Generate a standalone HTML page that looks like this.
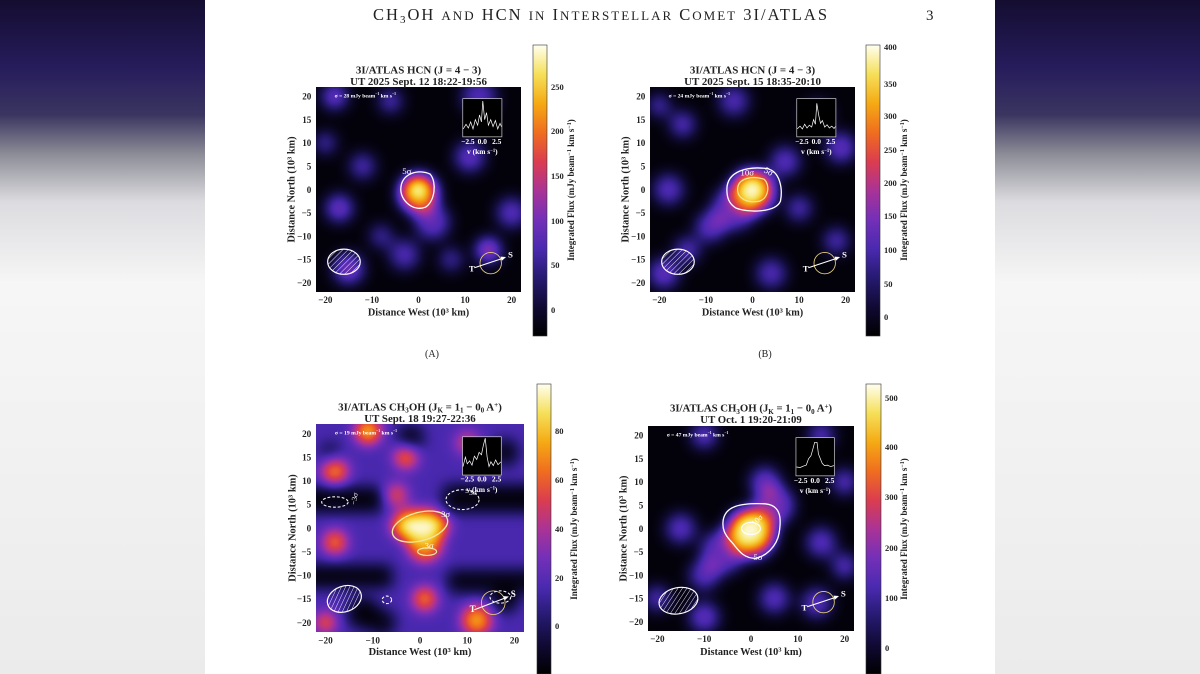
<!DOCTYPE html>
<html><head><meta charset="utf-8"><style>
html,body{margin:0;padding:0;width:1200px;height:674px;overflow:hidden;background:#fff}
svg{display:block}
text{font-family:"Liberation Serif",serif}
</style></head><body>
<svg width="1200" height="674" viewBox="0 0 1200 674" xmlns="http://www.w3.org/2000/svg">
<defs>
<linearGradient id="side" x1="0" y1="0" x2="0" y2="1">
<stop offset="0" stop-color="#140d30"/><stop offset="0.1" stop-color="#261c5c"/><stop offset="0.17" stop-color="#3a3560"/>
<stop offset="0.23" stop-color="#8e8e98"/><stop offset="0.3" stop-color="#dcdce0"/><stop offset="0.42" stop-color="#f6f6f6"/>
<stop offset="1" stop-color="#ebebeb"/></linearGradient>
<linearGradient id="cbar" x1="0" y1="1" x2="0" y2="0">
<stop offset="0" stop-color="#000"/><stop offset="0.1" stop-color="#100a33"/><stop offset="0.2" stop-color="#261a70"/>
<stop offset="0.3" stop-color="#4a2ab0"/><stop offset="0.4" stop-color="#7330b8"/><stop offset="0.5" stop-color="#aa3396"/>
<stop offset="0.6" stop-color="#db3d4f"/><stop offset="0.7" stop-color="#f06e1f"/><stop offset="0.8" stop-color="#f5aa14"/>
<stop offset="0.9" stop-color="#f5e05a"/><stop offset="1" stop-color="#fffff0"/></linearGradient>
<filter id="cm" filterUnits="userSpaceOnUse" x="-30" y="-30" width="60" height="60" color-interpolation-filters="sRGB">
<feGaussianBlur stdDeviation="1.6"/>
<feComponentTransfer>
<feFuncR type="table" tableValues="0 .06 .15 .29 .45 .67 .86 .94 .96 .97 1"/>
<feFuncG type="table" tableValues="0 .04 .1 .16 .18 .2 .24 .43 .67 .88 1"/>
<feFuncB type="table" tableValues="0 .2 .44 .69 .72 .59 .31 .12 .08 .35 .94"/>
</feComponentTransfer></filter>
<clipPath id="pc"><rect x="-22" y="-22" width="44" height="44"/></clipPath>
<pattern id="hatch" patternUnits="userSpaceOnUse" width="0.8" height="0.8" patternTransform="rotate(45)">
<line x1="0" y1="0" x2="0" y2="0.8" stroke="#fff" stroke-width="0.18"/></pattern>
</defs>

<rect x="0" y="0" width="205" height="674" fill="url(#side)"/>
<rect x="995" y="0" width="205" height="674" fill="url(#side)"/>

<text x="373" y="20" font-size="16.5" fill="#222" textLength="454" lengthAdjust="spacing">CH<tspan font-size="11" dy="3">3</tspan><tspan dy="-3">OH </tspan><tspan font-size="13">AND</tspan> HCN <tspan font-size="13">IN</tspan> I<tspan font-size="13">NTERSTELLAR</tspan> C<tspan font-size="13">OMET</tspan> 3I/ATLAS</text>
<text x="926" y="20" font-size="15" fill="#222">3</text>
<text x="432" y="357" font-size="10" text-anchor="middle" fill="#222">(A)</text>
<text x="765" y="357" font-size="10" text-anchor="middle" fill="#222">(B)</text>

<!-- ============ PANEL A ============ -->
<svg x="316" y="87" width="205" height="205" viewBox="-22 -22 44 44" preserveAspectRatio="none" overflow="visible">
<g clip-path="url(#pc)"><g filter="url(#cm)">
<rect x="-30" y="-30" width="60" height="60" fill="#050505"/>
<g fill="#fff">
<circle cx="-18" cy="-20" r="2.8" opacity=".38"/><circle cx="-17" cy="4" r="3" opacity=".38"/>
<circle cx="-15" cy="17" r="3.3" opacity=".4"/><circle cx="15" cy="13" r="2.7" opacity=".5"/>
<circle cx="11" cy="-7" r="3.3" opacity=".34"/><circle cx="3" cy="7" r="3.8" opacity=".34"/>
<circle cx="-6" cy="-19" r="2.5" opacity=".32"/><circle cx="13" cy="-20" r="3.8" opacity=".3"/>
<circle cx="20" cy="5" r="3.3" opacity=".32"/><circle cx="-12" cy="-5" r="2.8" opacity=".3"/>
<circle cx="-3" cy="14" r="3.3" opacity=".3"/><circle cx="-20" cy="-10" r="2.3" opacity=".3"/>
<circle cx="-8" cy="10" r="2.5" opacity=".28"/><circle cx="7" cy="15" r="2.5" opacity=".28"/>
<circle cx="0" cy="1" r="4.4" opacity=".58"/><circle cx="0" cy="0" r="3" opacity=".88"/><circle cx="-0.5" cy="-0.2" r="2.3" fill="#fff"/>
</g></g></g>
<path d="M-3.8,0 C-3.8,-3.5 0,-4.5 2.5,-3.3 C4,-1.5 3.5,2.5 1.5,3.8 C-1,4.8 -3.8,2.5 -3.8,0Z" fill="none" stroke="#fff" stroke-width="0.28"/>
<text x="-3.5" y="-3.3" font-size="1.9" fill="#fff">5σ</text>
<ellipse cx="-16" cy="15.5" rx="3.5" ry="2.7" fill="url(#hatch)" stroke="#fff" stroke-width="0.25"/>
<circle cx="15.5" cy="15.8" r="2.3" fill="none" stroke="#e8d27a" stroke-width="0.18"/>
<line x1="12" y1="16.8" x2="18.3" y2="14.7" stroke="#fff" stroke-width="0.22"/><path d="M18.8,14.5 L17.6,14.4 L17.9,15.3Z" fill="#fff"/>
<text x="10.8" y="17.6" font-size="1.9" font-weight="bold" fill="#fff">T</text><text x="19.2" y="14.6" font-size="1.9" font-weight="bold" fill="#fff">S</text>
<text x="-18" y="-19.8" font-size="1.2" font-weight="bold" fill="#fff">σ = 28 mJy beam<tspan dy="-0.5" font-size="0.8">−1</tspan><tspan dy="0.5"> km s</tspan><tspan dy="-0.5" font-size="0.8">−1</tspan></text>
<rect x="9.5" y="-19.5" width="8.4" height="8.2" fill="#000" stroke="#ccc" stroke-width="0.15"/>
<polyline points="9.6,-13 10.2,-14 10.7,-13.2 11.2,-14.5 11.7,-13 12.2,-15 12.7,-13.8 13.1,-16 13.5,-14.5 13.8,-19 14.2,-15 14.6,-16.5 15,-13.8 15.5,-15 16,-13.5 16.5,-14.8 17,-13 17.5,-14.2 17.8,-13.5" fill="none" stroke="#fff" stroke-width="0.15"/>
<g font-size="1.6" fill="#fff" font-weight="bold" text-anchor="middle"><text x="10.6" y="-9.8">−2.5</text><text x="13.7" y="-9.8">0.0</text><text x="16.8" y="-9.8">2.5</text><text x="13.7" y="-7.6">v (km s<tspan font-size="1" dy="-0.5">−1</tspan><tspan dy="0.5">)</tspan></text></g>
<g font-size="1.95" font-weight="bold" fill="#222" text-anchor="middle"><text x="-20" y="24.4">−20</text><text x="-10" y="24.4">−10</text><text x="0" y="24.4">0</text><text x="10" y="24.4">10</text><text x="20" y="24.4">20</text></g>
<g font-size="1.95" font-weight="bold" fill="#222" text-anchor="end"><text x="-23" y="-19.3">20</text><text x="-23" y="-14.3">15</text><text x="-23" y="-9.3">10</text><text x="-23" y="-4.3">5</text><text x="-23" y="0.7">0</text><text x="-23" y="5.7">−5</text><text x="-23" y="10.7">−10</text><text x="-23" y="15.7">−15</text><text x="-23" y="20.7">−20</text></g>
<text x="0" y="27.1" font-size="2.2" font-weight="bold" fill="#222" text-anchor="middle">Distance West (10<tspan font-size="1.4" dy="-0.7">3</tspan><tspan dy="0.7"> km)</tspan></text>
<text transform="translate(-26.6,0) rotate(-90)" font-size="2.2" font-weight="bold" fill="#222" text-anchor="middle">Distance North (10<tspan font-size="1.4" dy="-0.7">3</tspan><tspan dy="0.7"> km)</tspan></text>
<text x="0" y="-24.9" font-size="2.35" font-weight="bold" fill="#222" text-anchor="middle">3I/ATLAS HCN (J = 4 − 3)</text>
<text x="0" y="-22.4" font-size="2.35" font-weight="bold" fill="#222" text-anchor="middle">UT 2025 Sept. 12 18:22-19:56</text>
</svg>
<rect x="533" y="45" width="14" height="291" fill="url(#cbar)" stroke="#333" stroke-width="0.6"/>
<g font-size="8.5" font-weight="bold" fill="#222"><text x="551" y="90">250</text><text x="551" y="134">200</text><text x="551" y="179">150</text><text x="551" y="224">100</text><text x="551" y="268">50</text><text x="551" y="313">0</text></g>
<text transform="translate(574,190) rotate(-90)" font-size="9" font-weight="bold" fill="#222" text-anchor="middle">Integrated Flux (mJy beam<tspan font-size="6" dy="-3">−1</tspan><tspan dy="3"> km s</tspan><tspan font-size="6" dy="-3">−1</tspan><tspan dy="3">)</tspan></text>

<!-- ============ PANEL B ============ -->
<svg x="650" y="87" width="205" height="205" viewBox="-22 -22 44 44" preserveAspectRatio="none" overflow="visible">
<g clip-path="url(#pc)"><g filter="url(#cm)">
<rect x="-30" y="-30" width="60" height="60" fill="#050505"/>
<g fill="#fff">
<circle cx="-4" cy="4" r="4.8" opacity=".35"/><circle cx="-9" cy="8" r="3.3" opacity=".34"/>
<circle cx="7" cy="-6" r="3.3" opacity=".32"/><circle cx="-18" cy="0" r="3.3" opacity=".32"/>
<circle cx="19" cy="-9" r="3.3" opacity=".34"/><circle cx="-15" cy="-14" r="2.8" opacity=".32"/>
<circle cx="14" cy="-16" r="2.8" opacity=".34"/><circle cx="-4" cy="-19" r="3.3" opacity=".3"/>
<circle cx="4" cy="18" r="3.3" opacity=".3"/><circle cx="-19" cy="18" r="3.3" opacity=".35"/>
<circle cx="18" cy="11" r="2.8" opacity=".3"/><circle cx="-14" cy="13" r="2.8" opacity=".32"/>
<circle cx="-20" cy="-18" r="2.3" opacity=".32"/><circle cx="10" cy="4" r="2.8" opacity=".3"/>
<circle cx="0" cy="0.5" r="5" opacity=".55"/><circle cx="0" cy="0" r="3.5" opacity=".9"/><circle cx="0" cy="0" r="2.5" fill="#fff"/>
</g></g></g>
<path d="M-5.5,0 C-5.5,-4 -1,-5 3,-4.5 C6,-4 6.5,0 6,2.5 C5,5 -1,5 -3.5,4 C-5.2,3 -5.5,1.5 -5.5,0Z" fill="none" stroke="#fff" stroke-width="0.28"/>
<path d="M-3.2,0 C-3.2,-2.5 0,-3 2.5,-2.2 C3.8,-1 3.5,1.8 1.5,2.5 C-1,3 -3.2,2 -3.2,0Z" fill="none" stroke="#f5e78a" stroke-width="0.26"/>
<text x="-2.6" y="-3.0" font-size="1.9" fill="#fff">10σ</text><text x="2.5" y="-3.5" font-size="1.9" fill="#fff" transform="rotate(30 3 -4)">5σ</text>
<ellipse cx="-16" cy="15.5" rx="3.5" ry="2.7" fill="url(#hatch)" stroke="#fff" stroke-width="0.25"/>
<circle cx="15.5" cy="15.8" r="2.3" fill="none" stroke="#e8d27a" stroke-width="0.18"/>
<line x1="12" y1="16.8" x2="18.3" y2="14.7" stroke="#fff" stroke-width="0.22"/><path d="M18.8,14.5 L17.6,14.4 L17.9,15.3Z" fill="#fff"/>
<text x="10.8" y="17.6" font-size="1.9" font-weight="bold" fill="#fff">T</text><text x="19.2" y="14.6" font-size="1.9" font-weight="bold" fill="#fff">S</text>
<text x="-18" y="-19.8" font-size="1.2" font-weight="bold" fill="#fff">σ = 24 mJy beam<tspan dy="-0.5" font-size="0.8">−1</tspan><tspan dy="0.5"> km s</tspan><tspan dy="-0.5" font-size="0.8">−1</tspan></text>
<rect x="9.5" y="-19.5" width="8.4" height="8.2" fill="#000" stroke="#ccc" stroke-width="0.15"/>
<polyline points="9.6,-13 10.2,-13.6 10.7,-13 11.2,-14 11.7,-13.2 12.2,-13.8 12.7,-13.4 13.1,-15 13.5,-14 13.8,-18.5 14.2,-16 14.6,-14.2 15,-14.8 15.5,-13.4 16,-13.9 16.5,-13.2 17,-13.6 17.5,-13.1 17.8,-13.5" fill="none" stroke="#fff" stroke-width="0.15"/>
<g font-size="1.6" fill="#fff" font-weight="bold" text-anchor="middle"><text x="10.6" y="-9.8">−2.5</text><text x="13.7" y="-9.8">0.0</text><text x="16.8" y="-9.8">2.5</text><text x="13.7" y="-7.6">v (km s<tspan font-size="1" dy="-0.5">−1</tspan><tspan dy="0.5">)</tspan></text></g>
<g font-size="1.95" font-weight="bold" fill="#222" text-anchor="middle"><text x="-20" y="24.4">−20</text><text x="-10" y="24.4">−10</text><text x="0" y="24.4">0</text><text x="10" y="24.4">10</text><text x="20" y="24.4">20</text></g>
<g font-size="1.95" font-weight="bold" fill="#222" text-anchor="end"><text x="-23" y="-19.3">20</text><text x="-23" y="-14.3">15</text><text x="-23" y="-9.3">10</text><text x="-23" y="-4.3">5</text><text x="-23" y="0.7">0</text><text x="-23" y="5.7">−5</text><text x="-23" y="10.7">−10</text><text x="-23" y="15.7">−15</text><text x="-23" y="20.7">−20</text></g>
<text x="0" y="27.1" font-size="2.2" font-weight="bold" fill="#222" text-anchor="middle">Distance West (10<tspan font-size="1.4" dy="-0.7">3</tspan><tspan dy="0.7"> km)</tspan></text>
<text transform="translate(-26.6,0) rotate(-90)" font-size="2.2" font-weight="bold" fill="#222" text-anchor="middle">Distance North (10<tspan font-size="1.4" dy="-0.7">3</tspan><tspan dy="0.7"> km)</tspan></text>
<text x="0" y="-24.9" font-size="2.35" font-weight="bold" fill="#222" text-anchor="middle">3I/ATLAS HCN (J = 4 − 3)</text>
<text x="0" y="-22.4" font-size="2.35" font-weight="bold" fill="#222" text-anchor="middle">UT 2025 Sept. 15 18:35-20:10</text>
</svg>
<rect x="866" y="45" width="14" height="291" fill="url(#cbar)" stroke="#333" stroke-width="0.6"/>
<g font-size="8.5" font-weight="bold" fill="#222"><text x="884" y="50">400</text><text x="884" y="87">350</text><text x="884" y="119">300</text><text x="884" y="153">250</text><text x="884" y="186">200</text><text x="884" y="219">150</text><text x="884" y="253">100</text><text x="884" y="287">50</text><text x="884" y="320">0</text></g>
<text transform="translate(907,190) rotate(-90)" font-size="9" font-weight="bold" fill="#222" text-anchor="middle">Integrated Flux (mJy beam<tspan font-size="6" dy="-3">−1</tspan><tspan dy="3"> km s</tspan><tspan font-size="6" dy="-3">−1</tspan><tspan dy="3">)</tspan></text>

<!-- ============ PANEL C ============ -->
<svg x="316" y="424" width="208" height="208" viewBox="-22 -22 44 44" preserveAspectRatio="none" overflow="visible">
<g clip-path="url(#pc)"><g filter="url(#cm)">
<rect x="-30" y="-30" width="60" height="60" fill="#4c4c4c"/>
<g fill="#000">
<rect x="-30" y="-8.5" width="22" height="5" opacity=".95"/><rect x="5" y="-9" width="25" height="5.5" opacity=".95"/>
<rect x="-30" y="8" width="24" height="4.5" opacity=".95"/><rect x="6" y="9" width="24" height="4.5" opacity=".9"/>
<circle cx="-12" cy="18" r="3.3" opacity=".95"/><circle cx="-2" cy="-19" r="2.8" opacity=".85"/>
<circle cx="18" cy="-16" r="2.8" opacity=".85"/><circle cx="-19" cy="-16" r="2.2" opacity=".6"/>
<circle cx="18" cy="15" r="2.8" opacity=".9"/><circle cx="-8" cy="20" r="2.8" opacity=".85"/>
</g>
<g fill="#fff">
<circle cx="-11" cy="-20.5" r="2.7" opacity=".82"/><circle cx="-3" cy="-15" r="2.5" opacity=".64"/>
<circle cx="-18" cy="-12" r="2.8" opacity=".66"/><circle cx="-18" cy="3" r="2.6" opacity=".64"/>
<circle cx="1" cy="15" r="2.6" opacity=".66"/><circle cx="12" cy="19.5" r="3.2" opacity=".72"/>
<circle cx="-20" cy="20" r="2.2" opacity=".62"/><circle cx="-5" cy="-7" r="2.5" opacity=".5"/>
<circle cx="10" cy="-18" r="2.5" opacity=".45"/>
<circle cx="1" cy="3.5" r="3.7" opacity=".68"/>
<ellipse cx="0" cy="-0.5" rx="6.2" ry="3.4" opacity=".74"/><circle cx="-2" cy="-0.5" r="2.6" opacity=".96"/><circle cx="2" cy="-0.8" r="2.6" opacity=".9"/>
</g></g></g>
<ellipse cx="0" cy="-0.3" rx="6" ry="3" transform="rotate(-15 0 -0.3)" fill="none" stroke="#f3e7a0" stroke-width="0.28"/>
<ellipse cx="1.5" cy="5" rx="2" ry="0.8" fill="none" stroke="#f3e7a0" stroke-width="0.25"/>
<text x="4.5" y="-2.3" font-size="1.8" fill="#fff">3σ</text><text x="1" y="4.3" font-size="1.8" fill="#fff">3σ</text>
<g fill="none" stroke="#fff" stroke-width="0.22" stroke-dasharray="0.6 0.4">
<ellipse cx="-18" cy="-5.5" rx="2.8" ry="1.1"/><ellipse cx="9" cy="-6" rx="3.5" ry="2.1"/><ellipse cx="-7" cy="15.2" rx="1" ry="0.8"/><ellipse cx="17" cy="14.6" rx="2.2" ry="1.3"/></g>
<text x="-15" y="-4.5" font-size="1.6" fill="#fff" transform="rotate(-80 -14.5 -5.5)">−3σ</text><text x="9.5" y="-7" font-size="1.6" fill="#fff">−3σ</text>
<ellipse cx="-16" cy="15" rx="3.7" ry="2.7" transform="rotate(-20 -16 15)" fill="url(#hatch)" stroke="#fff" stroke-width="0.25"/>
<circle cx="15.5" cy="15.8" r="2.5" fill="none" stroke="#e8d27a" stroke-width="0.18"/>
<line x1="11.5" y1="17.3" x2="18.3" y2="14.7" stroke="#fff" stroke-width="0.22"/><path d="M18.8,14.5 L17.6,14.4 L17.9,15.3Z" fill="#fff"/>
<text x="10.5" y="17.8" font-size="1.9" font-weight="bold" fill="#fff">T</text><text x="19.2" y="14.6" font-size="1.9" font-weight="bold" fill="#fff">S</text>
<text x="-18" y="-19.8" font-size="1.2" font-weight="bold" fill="#fff">σ = 19 mJy beam<tspan dy="-0.5" font-size="0.8">−1</tspan><tspan dy="0.5"> km s</tspan><tspan dy="-0.5" font-size="0.8">−1</tspan></text>
<rect x="9" y="-19.3" width="8.2" height="8.1" fill="#000" stroke="#ccc" stroke-width="0.15"/>
<polyline points="9.1,-13 9.6,-15 10,-13.6 10.5,-14.2 11,-13.3 11.5,-15.2 12,-14.5 12.5,-16 13,-15.5 13.4,-17.5 13.8,-19 14.2,-15 14.6,-13 15,-14 15.5,-13.2 16,-14.4 16.5,-13.4 17.1,-14" fill="none" stroke="#fff" stroke-width="0.15"/>
<g font-size="1.6" fill="#fff" font-weight="bold" text-anchor="middle"><text x="10" y="-9.8">−2.5</text><text x="13.1" y="-9.8">0.0</text><text x="16.2" y="-9.8">2.5</text><text x="13.1" y="-7.6">v (km s<tspan font-size="1" dy="-0.5">−1</tspan><tspan dy="0.5">)</tspan></text></g>
<g font-size="1.95" font-weight="bold" fill="#222" text-anchor="middle"><text x="-20" y="24.4">−20</text><text x="-10" y="24.4">−10</text><text x="0" y="24.4">0</text><text x="10" y="24.4">10</text><text x="20" y="24.4">20</text></g>
<g font-size="1.95" font-weight="bold" fill="#222" text-anchor="end"><text x="-23" y="-19.3">20</text><text x="-23" y="-14.3">15</text><text x="-23" y="-9.3">10</text><text x="-23" y="-4.3">5</text><text x="-23" y="0.7">0</text><text x="-23" y="5.7">−5</text><text x="-23" y="10.7">−10</text><text x="-23" y="15.7">−15</text><text x="-23" y="20.7">−20</text></g>
<text x="0" y="26.9" font-size="2.2" font-weight="bold" fill="#222" text-anchor="middle">Distance West (10<tspan font-size="1.4" dy="-0.7">3</tspan><tspan dy="0.7"> km)</tspan></text>
<text transform="translate(-26.3,0) rotate(-90)" font-size="2.2" font-weight="bold" fill="#222" text-anchor="middle">Distance North (10<tspan font-size="1.4" dy="-0.7">3</tspan><tspan dy="0.7"> km)</tspan></text>
<text x="0" y="-24.9" font-size="2.3" font-weight="bold" fill="#222" text-anchor="middle">3I/ATLAS CH<tspan font-size="1.5" dy="0.5">3</tspan><tspan dy="-0.5">OH (J</tspan><tspan font-size="1.5" dy="0.5">K</tspan><tspan dy="-0.5"> = 1</tspan><tspan font-size="1.5" dy="0.5">1</tspan><tspan dy="-0.5"> − 0</tspan><tspan font-size="1.5" dy="0.5">0</tspan><tspan dy="-0.5"> A</tspan><tspan font-size="1.5" dy="-0.7">+</tspan><tspan dy="0.7">)</tspan></text>
<text x="0" y="-22.4" font-size="2.3" font-weight="bold" fill="#222" text-anchor="middle">UT Sept. 18 19:27-22:36</text>
</svg>
<rect x="537" y="384" width="14" height="290" fill="url(#cbar)" stroke="#333" stroke-width="0.6"/>
<g font-size="8.5" font-weight="bold" fill="#222"><text x="555" y="434">80</text><text x="555" y="483">60</text><text x="555" y="532">40</text><text x="555" y="581">20</text><text x="555" y="629">0</text></g>
<text transform="translate(577,529) rotate(-90)" font-size="9" font-weight="bold" fill="#222" text-anchor="middle">Integrated Flux (mJy beam<tspan font-size="6" dy="-3">−1</tspan><tspan dy="3"> km s</tspan><tspan font-size="6" dy="-3">−1</tspan><tspan dy="3">)</tspan></text>

<!-- ============ PANEL D ============ -->
<svg x="648" y="426" width="206" height="205" viewBox="-22 -22 44 44" preserveAspectRatio="none" overflow="visible">
<g clip-path="url(#pc)"><g filter="url(#cm)">
<rect x="-30" y="-30" width="60" height="60" fill="#050505"/>
<g fill="#fff">
<circle cx="-6" cy="5" r="4.8" opacity=".35"/><circle cx="5" cy="-5" r="4.3" opacity=".38"/>
<circle cx="3" cy="-10" r="3.3" opacity=".35"/><circle cx="-10" cy="10" r="3.3" opacity=".32"/>
<circle cx="5" cy="15" r="3.3" opacity=".32"/><circle cx="-10" cy="-20" r="2.8" opacity=".35"/>
<circle cx="-15" cy="0" r="3.3" opacity=".32"/><circle cx="15" cy="3" r="3.3" opacity=".32"/>
<circle cx="20" cy="8" r="2.8" opacity=".32"/><circle cx="-10" cy="19" r="3.3" opacity=".34"/>
<circle cx="15" cy="-20" r="2.8" opacity=".32"/><circle cx="14" cy="16" r="3.3" opacity=".32"/>
<circle cx="-20" cy="15" r="2.8" opacity=".3"/><circle cx="20" cy="-10" r="2.8" opacity=".32"/>
<circle cx="0" cy="1" r="5.5" opacity=".58"/><circle cx="0" cy="0.5" r="4.2" opacity=".78"/><circle cx="-0.5" cy="0" r="3" opacity=".95"/><circle cx="-0.5" cy="0" r="2" fill="#fff"/>
</g></g></g>
<path d="M-6,-1 C-6,-5 -2,-5.5 3,-5.3 C6.5,-5 6.5,-2 6,1 C5.5,4 3,6 1,6.4 C-2,6.5 -3,4 -4.5,2.5 C-5.8,1 -6,0 -6,-1Z" fill="none" stroke="#fff" stroke-width="0.28"/>
<ellipse cx="0" cy="0" rx="2" ry="1.3" fill="none" stroke="#fff" stroke-width="0.25"/>
<text x="0.5" y="-0.8" font-size="1.7" fill="#fff" transform="rotate(-45 1 -1)">10σ</text><text x="0.5" y="6.8" font-size="1.9" fill="#fff">5σ</text>
<ellipse cx="-15.5" cy="15.5" rx="4.2" ry="2.8" transform="rotate(-12 -15.5 15.5)" fill="url(#hatch)" stroke="#fff" stroke-width="0.25"/>
<circle cx="15.5" cy="15.8" r="2.3" fill="none" stroke="#e8d27a" stroke-width="0.18"/>
<line x1="12" y1="16.8" x2="18.3" y2="14.7" stroke="#fff" stroke-width="0.22"/><path d="M18.8,14.5 L17.6,14.4 L17.9,15.3Z" fill="#fff"/>
<text x="10.8" y="17.6" font-size="1.9" font-weight="bold" fill="#fff">T</text><text x="19.2" y="14.6" font-size="1.9" font-weight="bold" fill="#fff">S</text>
<text x="-18" y="-19.8" font-size="1.2" font-weight="bold" fill="#fff">σ = 47 mJy beam<tspan dy="-0.5" font-size="0.8">−1</tspan><tspan dy="0.5"> km s</tspan><tspan dy="-0.5" font-size="0.8">−1</tspan></text>
<rect x="9.6" y="-19.5" width="8.2" height="8.2" fill="#000" stroke="#ccc" stroke-width="0.15"/>
<polyline points="9.7,-13.2 10.5,-13.1 11.2,-13.4 11.8,-13.6 12.3,-15 12.8,-15.6 13.2,-17 13.6,-18.5 14.1,-18.5 14.4,-16 14.8,-15 15.2,-14 15.7,-13.5 16.3,-13.6 17,-13.3 17.7,-13.5" fill="none" stroke="#fff" stroke-width="0.15"/>
<g font-size="1.6" fill="#fff" font-weight="bold" text-anchor="middle"><text x="10.6" y="-9.8">−2.5</text><text x="13.7" y="-9.8">0.0</text><text x="16.8" y="-9.8">2.5</text><text x="13.7" y="-7.6">v (km s<tspan font-size="1" dy="-0.5">−1</tspan><tspan dy="0.5">)</tspan></text></g>
<g font-size="1.95" font-weight="bold" fill="#222" text-anchor="middle"><text x="-20" y="24.4">−20</text><text x="-10" y="24.4">−10</text><text x="0" y="24.4">0</text><text x="10" y="24.4">10</text><text x="20" y="24.4">20</text></g>
<g font-size="1.95" font-weight="bold" fill="#222" text-anchor="end"><text x="-23" y="-19.3">20</text><text x="-23" y="-14.3">15</text><text x="-23" y="-9.3">10</text><text x="-23" y="-4.3">5</text><text x="-23" y="0.7">0</text><text x="-23" y="5.7">−5</text><text x="-23" y="10.7">−10</text><text x="-23" y="15.7">−15</text><text x="-23" y="20.7">−20</text></g>
<text x="0" y="27.1" font-size="2.2" font-weight="bold" fill="#222" text-anchor="middle">Distance West (10<tspan font-size="1.4" dy="-0.7">3</tspan><tspan dy="0.7"> km)</tspan></text>
<text transform="translate(-26.6,0) rotate(-90)" font-size="2.2" font-weight="bold" fill="#222" text-anchor="middle">Distance North (10<tspan font-size="1.4" dy="-0.7">3</tspan><tspan dy="0.7"> km)</tspan></text>
<text x="0" y="-25.1" font-size="2.3" font-weight="bold" fill="#222" text-anchor="middle">3I/ATLAS CH<tspan font-size="1.5" dy="0.5">3</tspan><tspan dy="-0.5">OH (J</tspan><tspan font-size="1.5" dy="0.5">K</tspan><tspan dy="-0.5"> = 1</tspan><tspan font-size="1.5" dy="0.5">1</tspan><tspan dy="-0.5"> − 0</tspan><tspan font-size="1.5" dy="0.5">0</tspan><tspan dy="-0.5"> A</tspan><tspan font-size="1.5" dy="-0.7">+</tspan><tspan dy="0.7">)</tspan></text>
<text x="0" y="-22.6" font-size="2.3" font-weight="bold" fill="#222" text-anchor="middle">UT Oct. 1 19:20-21:09</text>
</svg>
<rect x="866" y="384" width="15" height="290" fill="url(#cbar)" stroke="#333" stroke-width="0.6"/>
<g font-size="8.5" font-weight="bold" fill="#222"><text x="885" y="401">500</text><text x="885" y="450">400</text><text x="885" y="500">300</text><text x="885" y="551">200</text><text x="885" y="601">100</text><text x="885" y="651">0</text></g>
<text transform="translate(907,529) rotate(-90)" font-size="9" font-weight="bold" fill="#222" text-anchor="middle">Integrated Flux (mJy beam<tspan font-size="6" dy="-3">−1</tspan><tspan dy="3"> km s</tspan><tspan font-size="6" dy="-3">−1</tspan><tspan dy="3">)</tspan></text>
</svg>
</body></html>
